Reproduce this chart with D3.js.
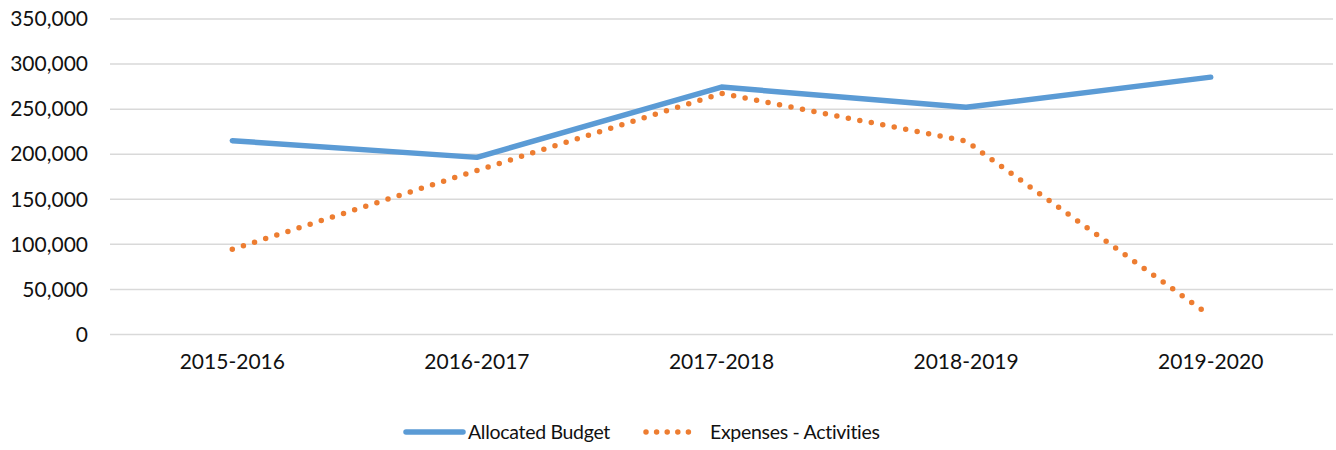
<!DOCTYPE html>
<html>
<head>
<meta charset="utf-8">
<script src="https://cdn.jsdelivr.net/npm/d3@7"></script>
<style>
  body { margin: 0; background: #fff; }
  text { font-family: Lato, "Open Sans", sans-serif; fill: #111; }
</style>
</head>
<body>
<div class="canvas"></div>
<script>
const years = ['2015-2016', '2016-2017', '2017-2018', '2018-2019', '2019-2020'];
const allocatedBudget = [215000, 196500, 274500, 252000, 285500];
const expensesActivities = [94500, 182000, 267500, 214500, 20500];
const yTicks = [0, 50000, 100000, 150000, 200000, 250000, 300000, 350000];

const dims = {width: 1336, height: 450};
const plot = {left: 110, right: 1333, top: 19, bottom: 334.5};

const svg = d3.select('.canvas')
    .append('svg')
    .attr('width', dims.width)
    .attr('height', dims.height);

const x = d3.scaleBand()
    .domain(years)
    .range([plot.left, plot.right]);

const y = d3.scaleLinear()
    .domain([0, 350000])
    .range([plot.bottom, plot.top]);

// gridlines
svg.append('g')
    .selectAll('line')
    .data(yTicks)
    .enter().append('line')
        .attr('x1', plot.left)
        .attr('x2', plot.right)
        .attr('y1', d => y(d))
        .attr('y2', d => y(d))
        .attr('stroke', '#d9d9d9')
        .attr('stroke-width', 1.5);

// y axis labels
const yAxis = d3.axisLeft(y)
    .tickValues(yTicks)
    .tickFormat(d3.format(','))
    .tickSize(0)
    .tickPadding(22);

svg.append('g')
    .attr('transform', `translate(${plot.left}, 0)`)
    .call(yAxis)
    .call(g => g.select('.domain').remove())
    .selectAll('text')
        .attr('font-size', 21)
        .attr('font-family', 'Lato, sans-serif')
        .attr('fill', '#111');

// x axis labels
const xAxis = d3.axisBottom(x)
    .tickSize(0)
    .tickPadding(20);

svg.append('g')
    .attr('transform', `translate(0, ${plot.bottom})`)
    .call(xAxis)
    .call(g => g.select('.domain').remove())
    .selectAll('text')
        .attr('font-size', 21)
        .attr('font-family', 'Lato, sans-serif')
        .attr('fill', '#111');

const line = d3.line()
    .x((d, i) => x(years[i]) + x.bandwidth() / 2)
    .y(d => y(d));

// dotted pattern that lands a dot on both ends of the path
const dotDash = (node, step) => {
    const len = node.getTotalLength();
    const n = Math.max(1, Math.round(len / step));
    return `0 ${len / n}`;
};

svg.append('path')
    .datum(allocatedBudget)
    .attr('d', line)
    .attr('fill', 'none')
    .attr('stroke', '#5b9bd5')
    .attr('stroke-width', 5.5)
    .attr('stroke-linecap', 'round')
    .attr('stroke-linejoin', 'round');

svg.append('path')
    .datum(expensesActivities)
    .attr('d', line)
    .attr('fill', 'none')
    .attr('stroke', '#ed7d31')
    .attr('stroke-width', 5.5)
    .attr('stroke-linecap', 'round')
    .attr('stroke-dasharray', function() { return dotDash(this, 11.7); });

// legend
const legendItems = [
    {name: 'Allocated Budget', color: '#5b9bd5', dotted: false, x: 406},
    {name: 'Expenses - Activities', color: '#ed7d31', dotted: true, x: 646}
];

const legend = svg.append('g')
    .attr('transform', 'translate(0, 432)');

legendItems.forEach(item => {
    const g = legend.append('g').attr('transform', `translate(${item.x}, 0)`);
    g.append('line')
        .attr('x1', 0)
        .attr('x2', item.dotted ? 53 : 57)
        .attr('stroke', item.color)
        .attr('stroke-width', 5.5)
        .attr('stroke-linecap', 'round')
        .attr('stroke-dasharray', function() { return item.dotted ? dotDash(this, 10.6) : null; });
    g.append('text')
        .attr('x', item.dotted ? 64 : 62)
        .attr('dy', '0.35em')
        .attr('font-size', 19.5)
        .attr('letter-spacing', -0.3)
        .text(item.name);
});
</script>
</body>
</html>
